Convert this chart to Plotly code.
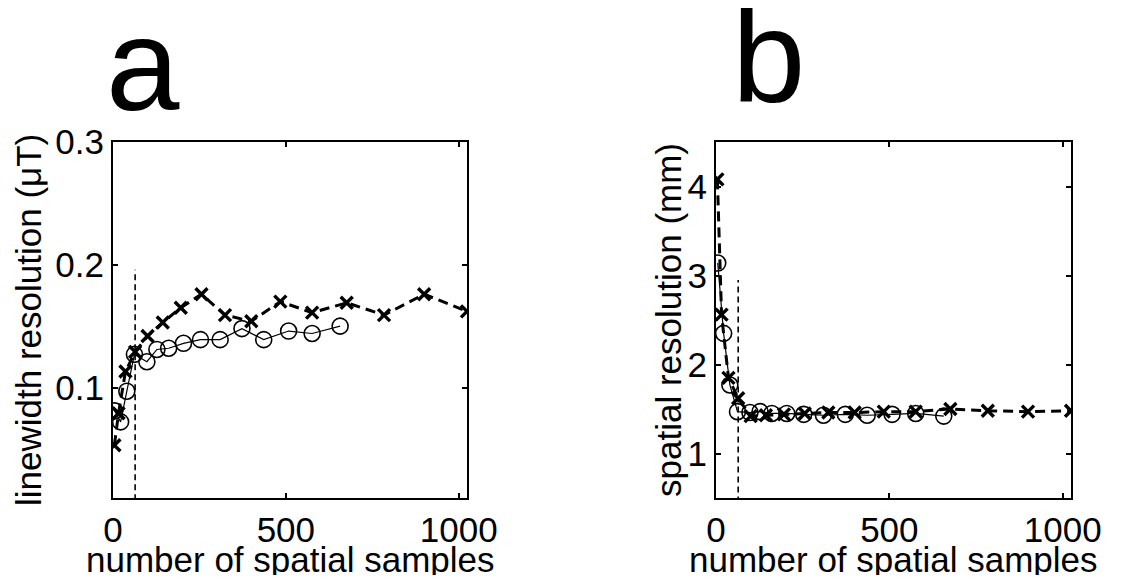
import plotly.graph_objects as go

# number of spatial samples
x_cross = [4, 16, 36, 64, 100, 144, 196, 256, 324, 400, 484, 576, 676, 784, 900, 1024]
x_circ = [5, 22, 40, 62, 98, 127, 161, 204, 253, 310, 373, 436, 508, 576, 657]

# panel a: linewidth resolution (uT)
lw_cross = [0.053, 0.079, 0.113, 0.129, 0.142, 0.153, 0.165, 0.176, 0.159, 0.154,
            0.170, 0.161, 0.169, 0.159, 0.176, 0.162]
lw_circ = [0.081, 0.072, 0.097, 0.127, 0.121, 0.131, 0.132, 0.136, 0.139, 0.139,
           0.148, 0.139, 0.146, 0.144, 0.150]

# panel b: spatial resolution (mm)
sp_cross = [4.08, 2.56, 1.85, 1.62, 1.42, 1.43, 1.44, 1.45, 1.46, 1.46,
            1.47, 1.47, 1.50, 1.48, 1.47, 1.48]
sp_circ = [3.14, 2.35, 1.77, 1.47, 1.46, 1.47, 1.45, 1.45, 1.44, 1.43,
           1.44, 1.43, 1.44, 1.45, 1.42]

cutoff_x = 64
cutoff_top = {'a': 0.196, 'b': 2.95}

# the page body has an 8px margin, so the figure is drawn 8px in from the corner
PAGE_W, PAGE_H, BODY = 1123, 583, 8
W, H = PAGE_W - 2 * BODY, PAGE_H - 2 * BODY
FONT = 'Liberation Sans, Arial, sans-serif'
BLACK = '#000000'


def px_x(p):
    return (p - BODY) / W


def px_y(p):
    return 1 - (p - BODY) / H


fig = go.Figure()

panels = [
    ('x', 'y', lw_cross, lw_circ, cutoff_top['a']),
    ('x2', 'y2', sp_cross, sp_circ, cutoff_top['b']),
]
for xa, ya, ycross, ycirc, top in panels:
    fig.add_trace(go.Scatter(
        x=[cutoff_x, cutoff_x], y=[0, top], xaxis=xa, yaxis=ya, mode='lines',
        line=dict(color=BLACK, width=1.6, dash='6px,4px'), showlegend=False,
    ))
    fig.add_trace(go.Scatter(
        x=x_circ, y=ycirc, xaxis=xa, yaxis=ya, mode='lines+markers',
        line=dict(color=BLACK, width=1.2),
        marker=dict(symbol='circle-open', size=16, color=BLACK, line=dict(width=1.6)),
        showlegend=False,
    ))
    fig.add_trace(go.Scatter(
        x=x_cross, y=ycross, xaxis=xa, yaxis=ya, mode='lines+markers',
        line=dict(color=BLACK, width=3, dash='10px,6px'),
        marker=dict(symbol='x-thin', size=12, color=BLACK,
                    line=dict(width=3.4, color=BLACK)),
        showlegend=False,
    ))

axis_common = dict(
    showline=True, linecolor=BLACK, linewidth=2, mirror='ticks',
    ticks='inside', ticklen=5, tickwidth=1.5, tickcolor=BLACK,
    showgrid=False, zeroline=False, automargin=False,
    tickfont=dict(family=FONT, size=35, color=BLACK),
)

fig.update_layout(
    width=W, height=H,
    margin=dict(l=0, r=0, t=0, b=0),
    paper_bgcolor='white', plot_bgcolor='white',
    font=dict(family=FONT, color=BLACK),
    xaxis=dict(domain=[px_x(113), px_x(467)], range=[0, 1024],
               tickvals=[0, 500, 1000], anchor='y', **axis_common),
    yaxis=dict(domain=[px_y(498), px_y(142)], range=[0.01, 0.3],
               tickvals=[0.1, 0.2, 0.3], ticktext=['0.1', '0.2', '0.3'],
               anchor='x', **axis_common),
    xaxis2=dict(domain=[px_x(716), px_x(1071)], range=[0, 1024],
                tickvals=[0, 500, 1000], anchor='y2', **axis_common),
    yaxis2=dict(domain=[px_y(498), px_y(142)], range=[0.5, 4.5],
                tickvals=[1, 2, 3, 4], anchor='x2', **axis_common),
)

notes = [
    ('a', 143, 64, 132, 0),
    ('b', 768, 57, 132, 0),
    ('number of spatial samples', 290, 559, 35, 0),
    ('number of spatial samples', 893, 559, 35, 0),
    ('linewidth resolution (μT)', 28, 320, 35, -90),
    ('spatial resolution (mm)', 668, 320, 35, -90),
]
for text, x, y, size, angle in notes:
    fig.add_annotation(
        text=text, x=px_x(x), y=px_y(y), xref='paper', yref='paper',
        xanchor='center', yanchor='middle', showarrow=False, textangle=angle,
        font=dict(family=FONT, size=size, color=BLACK),
    )

fig.write_html('out.html')
